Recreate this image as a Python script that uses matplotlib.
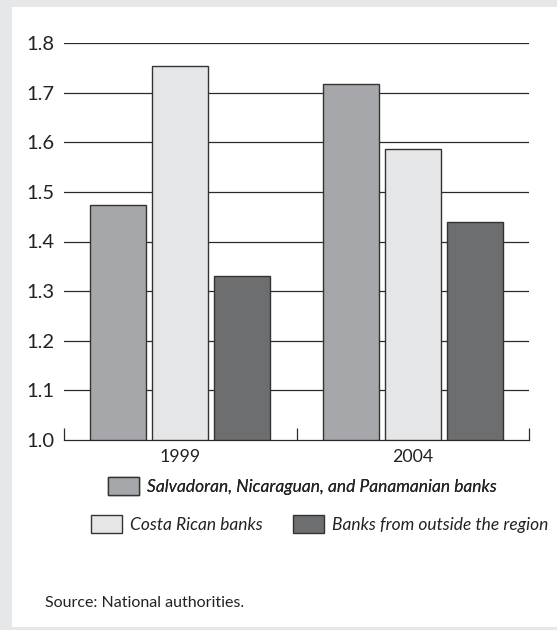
import matplotlib
matplotlib.use("Agg")
import matplotlib.pyplot as plt
from matplotlib.patches import Rectangle
import numpy as np

# Data
years = ["1999", "2004"]
series_names = [
    "Salvadoran, Nicaraguan, and Panamanian banks",
    "Costa Rican banks",
    "Banks from outside the region",
]
salv_nic_pan = [1.474, 1.718]
costa_rica = [1.753, 1.587]
outside_region = [1.330, 1.440]
y_ticks = [1.0, 1.1, 1.2, 1.3, 1.4, 1.5, 1.6, 1.7, 1.8]

colors = ["#a6a7aa", "#e5e6e7", "#6d6e70"]
edge = "#333333"
FONT = "Lato"

W, H, DPI = 557, 630, 100
fig = plt.figure(figsize=(W / DPI, H / DPI), dpi=DPI)
fig.patch.set_facecolor("#e6e7e8")

# white panel
fig.patches.append(Rectangle((12 / W, 1 - 627 / H), 1 - 12 / W, (627 - 7) / H,
                             transform=fig.transFigure, facecolor="white",
                             edgecolor="none", zorder=-10))

ax_l, ax_r, ax_t, ax_b = 64, 529, 43, 440
ax = fig.add_axes([ax_l / W, 1 - ax_b / H, (ax_r - ax_l) / W, (ax_b - ax_t) / H])
ax.set_zorder(2)
ax.set_facecolor("none")

x = np.arange(len(years))
step = 0.2667
width = 0.241
bars = []
for i, vals in enumerate([salv_nic_pan, costa_rica, outside_region]):
    b = ax.bar(x + (i - 1) * step, np.array(vals) - 1.0, bottom=1.0, width=width,
               color=colors[i], edgecolor=edge, linewidth=1.0, zorder=3,
               label=series_names[i])
    bars.append(b)

ax.set_xlim(-0.5, 1.5)
ax.set_ylim(1.0, 1.8)
ax.set_yticks(y_ticks)
ax.set_yticklabels([f"{v:.1f}" for v in y_ticks], fontsize=14.5, family=FONT,
                   color="#222222")
for v in y_ticks[1:]:
    ax.axhline(v, color="#2a2a2a", linewidth=0.9, zorder=1)
ax.tick_params(axis="y", length=0, pad=7)

# category separators on the x-axis
ax.set_xticks([-0.5, 0.5, 1.5])
ax.set_xticklabels([])
ax.tick_params(axis="x", direction="in", length=9, width=0.9, color="#2a2a2a")
for i, yr in enumerate(years):
    ax.text(x[i], -0.022, yr, transform=ax.get_xaxis_transform(), ha="center",
            va="top", fontsize=12.8, family=FONT, color="#222222")

for s in ["top", "right", "left"]:
    ax.spines[s].set_visible(False)
ax.spines["bottom"].set_linewidth(0.9)
ax.spines["bottom"].set_color("#2a2a2a")

# legend: first series on one row, the other two beneath it
leg_kw = dict(frameon=False, prop={"family": FONT, "style": "italic", "size": 12.5},
              handlelength=1.8, handleheight=1.3, handletextpad=0.45,
              borderpad=0, borderaxespad=0, labelcolor="#222222")
leg1 = fig.legend([bars[0]], [series_names[0]], loc="center left",
                  bbox_to_anchor=(108 / W, 1 - 486 / H), **leg_kw)
leg2 = fig.legend([bars[1], bars[2]], series_names[1:], loc="center left", ncol=2,
                  columnspacing=1.75, bbox_to_anchor=(91 / W, 1 - 524 / H), **leg_kw)
fig.add_artist(leg1)

fig.text(45 / W, 1 - 603 / H, "Source: National authorities.", fontsize=11.5,
         family=FONT, color="#222222", va="center", ha="left")

fig.savefig("out.png", dpi=DPI, facecolor=fig.get_facecolor())
